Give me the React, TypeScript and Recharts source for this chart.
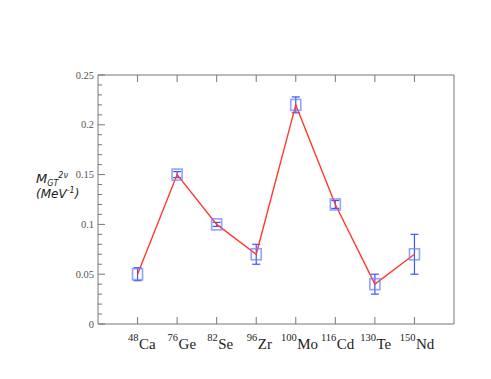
import React from "react";
import { ComposedChart, XAxis, YAxis, Scatter, Line, ErrorBar } from "recharts";

const masses = ["48", "76", "82", "96", "100", "116", "130", "150"];
const elements = ["Ca", "Ge", "Se", "Zr", "Mo", "Cd", "Te", "Nd"];
const values = [0.05, 0.15, 0.1, 0.07, 0.22, 0.12, 0.04, 0.07];
const errors = [0.0065, 0.003, 0.002, 0.01, 0.008, 0.004, 0.01, 0.02];
const yTicks = Array.from({ length: 26 }, (_, i) => Math.round(i) / 100);
const yLabels = ["0", "0.05", "0.1", "0.15", "0.2", "0.25"];
const xTicks = [1, 2, 3, 4, 5, 6, 7, 8];

const data = values.map((v, i) => ({ x: i + 1, value: v, err: errors[i], mass: masses[i], el: elements[i] }));

const AXIS = "#777";
const isMajor = (v: number) => Math.abs(v * 20 - Math.round(v * 20)) < 1e-6;

const LeftTick = (p: any) => {
  const v = p.payload.value;
  const major = isMajor(v);
  const idx = Math.round(v * 20);
  return (
    <g>
      <line x1={p.x} x2={p.x + (major ? 7 : 4)} y1={p.y} y2={p.y} stroke={AXIS} />
      {major && (
        <text x={p.x - 4} y={p.y} dy="0.35em" textAnchor="end" fontFamily="'Liberation Serif', serif" fontSize={10.5} fill="#555">
          {yLabels[idx]}
        </text>
      )}
    </g>
  );
};
const RightTick = (p: any) => {
  const v = p.payload.value;
  const major = isMajor(v);
  return <line x1={p.x} x2={p.x - (major ? 7 : 4)} y1={p.y} y2={p.y} stroke={AXIS} />;
};
const BottomTick = (p: any) => {
  const i = Math.round(p.payload.value) - 1;
  return (
    <g>
      <line x1={p.x} x2={p.x} y1={p.y} y2={p.y - 7} stroke={AXIS} />
      <text x={p.x + 1} y={p.y + 17} textAnchor="end" fontFamily="'Liberation Serif', serif" fontSize={10.5} fill="#222">
        {masses[i]}
      </text>
      <text x={p.x + 1.5} y={p.y + 25} textAnchor="start" fontFamily="'Liberation Serif', serif" fontSize={15} fill="#222">
        {elements[i]}
      </text>
    </g>
  );
};
const TopTick = (p: any) => <line x1={p.x} x2={p.x} y1={p.y} y2={p.y + 7} stroke={AXIS} />;

const Square = (p: any) => (
  <rect x={p.cx - 5} y={p.cy - 5.5} width={10} height={11} fill="none" stroke="#6f82ff" strokeOpacity={0.75} strokeWidth={1.6} />
);

export default function App() {
  return (
    <div style={{ position: "absolute", left: 0, top: 0, width: 491, height: 379, background: "#fff" }}>
      <ComposedChart width={491} height={379} data={data} margin={{ top: 74, right: 36, bottom: 54, left: 97 }}>
        <XAxis xAxisId="b" dataKey="x" type="number" domain={[0, 9]} ticks={xTicks} orientation="bottom" height={1}
          tickSize={0} tickMargin={0} tickLine={false} axisLine={{ stroke: AXIS }} tick={<BottomTick />} interval={0} />
        <XAxis xAxisId="t" dataKey="x" type="number" domain={[0, 9]} ticks={xTicks} orientation="top" height={1}
          tickSize={0} tickMargin={0} tickLine={false} axisLine={{ stroke: AXIS }} tick={<TopTick />} interval={0} />
        <YAxis yAxisId="l" type="number" domain={[0, 0.25]} ticks={yTicks} orientation="left" width={1}
          tickSize={0} tickMargin={0} tickLine={false} axisLine={{ stroke: AXIS }} tick={<LeftTick />} interval={0} />
        <YAxis yAxisId="r" type="number" domain={[0, 0.25]} ticks={yTicks} orientation="right" width={1}
          tickSize={0} tickMargin={0} tickLine={false} axisLine={{ stroke: AXIS }} tick={<RightTick />} interval={0} />
        <Scatter xAxisId="b" yAxisId="l" dataKey="value" shape={<Square />} isAnimationActive={false}>
          <ErrorBar dataKey="err" direction="y" width={4} stroke="#3a55ff" strokeWidth={1.2} isAnimationActive={false} />
        </Scatter>
        <Line xAxisId="b" yAxisId="l" dataKey="value" stroke="#ff3a2e" strokeWidth={1.4} dot={false} activeDot={false} isAnimationActive={false} />
        <text x={36} y={183} fontFamily="'DejaVu Sans', sans-serif" fontStyle="italic" fill="#222">
          <tspan fontSize={13}>M</tspan>
          <tspan fontSize={8} dy={3}>GT</tspan>
          <tspan fontSize={8} dy={-8}>2ν</tspan>
        </text>
        <text x={36} y={198} fontFamily="'DejaVu Sans', sans-serif" fontStyle="italic" fontSize={12} fill="#222">
          <tspan>(MeV</tspan>
          <tspan fontSize={8} dy={-5}>-1</tspan>
          <tspan dy={5}>)</tspan>
        </text>
      </ComposedChart>
    </div>
  );
}
